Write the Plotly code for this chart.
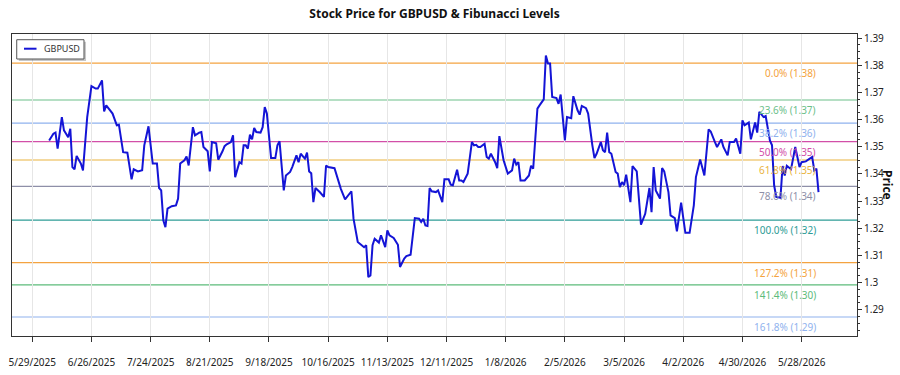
import pandas as pd
import plotly.graph_objects as go

# ---------------- data ----------------
start_date = "2025-05-29"
day_offsets = [8, 10, 11, 12, 14, 15, 16, 17, 18, 19, 20, 21, 23, 24, 26, 28, 30, 31, 33, 34,
               35, 37, 38, 40, 41, 43, 45, 47, 48, 50, 52, 53, 55, 57, 59, 60, 61, 62, 63, 64,
               66, 68, 69, 70, 72, 73, 74, 76, 77, 79, 80, 81, 83, 84, 85, 87, 88, 90, 91, 92,
               94, 95, 96, 98, 99, 100, 101, 102, 103, 104, 105, 106, 108, 109, 110, 111, 113, 115, 116, 117,
               119, 120, 122, 123, 125, 126, 127, 129, 130, 131, 132, 133, 134, 136, 138, 139, 140, 143, 145, 146,
               148, 149, 151, 152, 154, 155, 157, 158, 159, 160, 161, 162, 164, 165, 167, 168, 169, 171, 173, 174,
               176, 177, 179, 181, 183, 184, 185, 186, 187, 188, 189, 191, 192, 194, 195, 197, 198, 199, 201, 202,
               203, 204, 206, 208, 209, 210, 211, 212, 214, 215, 216, 217, 219, 220, 221, 223, 225, 227, 228, 229,
               230, 231, 233, 235, 236, 237, 239, 240, 242, 243, 244, 245, 246, 248, 249, 250, 252, 253, 255, 256,
               258, 259, 260, 262, 263, 265, 266, 267, 269, 270, 271, 272, 273, 274, 276, 277, 278, 279, 280, 281,
               283, 284, 286, 288, 290, 292, 293, 294, 295, 297, 298, 299, 301, 302, 304, 305, 307, 309, 311, 313,
               314, 316, 318, 320, 321, 323, 324, 326, 327, 329, 330, 332, 333, 335, 336, 337, 339, 340, 342, 343,
               344, 346, 347, 349, 350, 351, 352, 354, 355, 356, 357, 359, 360, 361, 363, 364, 366, 368, 369, 370,
               371, 372]
gbpusd = [1.3523, 1.3548, 1.3552, 1.3493, 1.3609, 1.3560, 1.3548, 1.3535, 1.3566, 1.3425, 1.3417, 1.3466, 1.3438, 1.3413, 1.3609, 1.3723, 1.3714, 1.3714, 1.3744, 1.3630,
          1.3652, 1.3634, 1.3622, 1.3579, 1.3581, 1.3480, 1.3478, 1.3380, 1.3417, 1.3409, 1.3413, 1.3505, 1.3575, 1.3438, 1.3438, 1.3348, 1.3339, 1.3229, 1.3204, 1.3272,
          1.3281, 1.3284, 1.3309, 1.3438, 1.3450, 1.3464, 1.3431, 1.3572, 1.3542, 1.3552, 1.3554, 1.3499, 1.3483, 1.3409, 1.3517, 1.3513, 1.3452, 1.3483, 1.3502, 1.3509,
          1.3517, 1.3542, 1.3388, 1.3443, 1.3438, 1.3505, 1.3505, 1.3493, 1.3544, 1.3527, 1.3569, 1.3554, 1.3552, 1.3572, 1.3646, 1.3622, 1.3458, 1.3458, 1.3505, 1.3520,
          1.3339, 1.3394, 1.3407, 1.3425, 1.3468, 1.3443, 1.3474, 1.3456, 1.3478, 1.3409, 1.3402, 1.3296, 1.3348, 1.3333, 1.3315, 1.3431, 1.3425, 1.3421, 1.3370, 1.3345,
          1.3306, 1.3315, 1.3336, 1.3235, 1.3149, 1.3143, 1.3130, 1.3137, 1.3020, 1.3026, 1.3137, 1.3161, 1.3147, 1.3174, 1.3130, 1.3192, 1.3174, 1.3164, 1.3139, 1.3057,
          1.3088, 1.3097, 1.3102, 1.3237, 1.3235, 1.3223, 1.3235, 1.3210, 1.3208, 1.3348, 1.3336, 1.3333, 1.3339, 1.3296, 1.3380, 1.3380, 1.3360, 1.3358, 1.3415, 1.3376,
          1.3376, 1.3370, 1.3401, 1.3517, 1.3505, 1.3507, 1.3499, 1.3499, 1.3511, 1.3462, 1.3456, 1.3474, 1.3443, 1.3421, 1.3539, 1.3450, 1.3401, 1.3413, 1.3456, 1.3434,
          1.3443, 1.3376, 1.3376, 1.3394, 1.3430, 1.3419, 1.3640, 1.3652, 1.3674, 1.3836, 1.3806, 1.3806, 1.3683, 1.3679, 1.3658, 1.3692, 1.3523, 1.3609, 1.3605, 1.3686,
          1.3634, 1.3618, 1.3650, 1.3642, 1.3622, 1.3505, 1.3458, 1.3474, 1.3517, 1.3487, 1.3480, 1.3552, 1.3480, 1.3474, 1.3407, 1.3401, 1.3351, 1.3370, 1.3358, 1.3397,
          1.3296, 1.3429, 1.3409, 1.3213, 1.3253, 1.3348, 1.3259, 1.3425, 1.3339, 1.3309, 1.3421, 1.3409, 1.3333, 1.3247, 1.3237, 1.3188, 1.3294, 1.3183, 1.3183, 1.3284,
          1.3388, 1.3453, 1.3394, 1.3564, 1.3556, 1.3517, 1.3499, 1.3527, 1.3499, 1.3468, 1.3517, 1.3517, 1.3530, 1.3474, 1.3597, 1.3579, 1.3589, 1.3527, 1.3589, 1.3552,
          1.3628, 1.3609, 1.3613, 1.3523, 1.3505, 1.3358, 1.3315, 1.3312, 1.3429, 1.3394, 1.3430, 1.3417, 1.3462, 1.3499, 1.3425, 1.3443, 1.3446, 1.3456, 1.3462, 1.3413,
          1.3419, 1.3333]

fib_labels = ["0.0%", "23.6%", "38.2%", "50.0%", "61.8%", "78.6%", "100.0%", "127.2%", "141.4%", "161.8%"]
fib_values = [1.3808, 1.3672, 1.3587, 1.3519, 1.3451, 1.3354, 1.3230, 1.3073, 1.2991, 1.2873]
fib_colors = ["#F4A340", "#6CC08A", "#8FB2EE", "#D24FA8", "#E9B440", "#8E8FA8",
              "#2E9C96", "#F4A340", "#5DBB7A", "#8FB2EE"]

x_tick_labels = ["5/29/2025", "6/26/2025", "7/24/2025", "8/21/2025", "9/18/2025", "10/16/2025",
                 "11/13/2025", "12/11/2025", "1/8/2026", "2/5/2026", "3/5/2026", "4/2/2026",
                 "4/30/2026", "5/28/2026"]

series_name = "GBPUSD"

# ---------------- figure ----------------
dates = pd.Timestamp(start_date) + pd.to_timedelta(day_offsets, unit="D")
tick_vals = [pd.to_datetime(t, format="%m/%d/%Y") for t in x_tick_labels]

FONT = "Noto Sans"
LINE_COLOR = "#1414D6"
fig = go.Figure()

for lab, val, col in zip(fib_labels, fib_values, fib_colors):
    fig.add_hline(y=val, line=dict(color=col, width=1.2), layer="below")
    fig.add_annotation(x=0.954, xref="paper", y=val, yref="y", xanchor="right", yanchor="top",
                       yshift=-1, text=f"{lab} ({val:.2f})", showarrow=False,
                       font=dict(family=FONT, size=10, color=col))

fig.add_trace(go.Scatter(x=dates, y=gbpusd, mode="lines", name=series_name,
                         line=dict(color=LINE_COLOR, width=2)))

# custom legend box (shadow, frame, line sample, label)
fig.add_shape(type="rect", xref="paper", yref="paper", x0=0.0080, x1=0.0876, y0=0.9106, y1=0.9745,
              line=dict(width=0), fillcolor="rgba(0,0,0,0.22)", layer="above")
fig.add_shape(type="rect", xref="paper", yref="paper", x0=0.0056, x1=0.0852, y0=0.9172, y1=0.9811,
              line=dict(width=1, color="#555555"), fillcolor="white", layer="above")
fig.add_shape(type="line", xref="paper", yref="paper", x0=0.0142, x1=0.0290, y0=0.9513, y1=0.9513,
              line=dict(width=2, color=LINE_COLOR), layer="above")
fig.add_annotation(x=0.0360, xref="paper", y=0.9513, yref="paper", xanchor="left", yanchor="middle",
                   text=series_name, showarrow=False, font=dict(family=FONT, size=9, color="#333333"))

fig.update_layout(
    width=900, height=375,
    margin=dict(l=12, r=43, t=34, b=39, autoexpand=False),
    paper_bgcolor="white", plot_bgcolor="white",
    font=dict(family=FONT, size=10, color="#222222"),
    title=dict(text="<b>Stock Price for GBPUSD & Fibunacci Levels</b>", x=0.4828, xanchor="center",
               y=0.962, yanchor="middle", font=dict(family=FONT, size=12, color="#111111")),
    showlegend=False,
)
fig.update_xaxes(
    type="date", range=["2025-05-19 10:00", "2026-06-23 05:00"], automargin=False,
    tickvals=tick_vals, ticktext=x_tick_labels,
    showgrid=True, gridcolor="#E6E6E6", gridwidth=1,
    showline=True, linecolor="#333333", linewidth=1, mirror=True,
    ticks="outside", ticklen=5, tickcolor="#333333", ticklabelstandoff=12,
    tickfont=dict(family=FONT, size=10, color="#222222"), zeroline=False,
)
fig.update_yaxes(
    side="right", range=[1.2803, 1.3915], dtick=0.01, tick0=1.28, automargin=False,
    showgrid=False, zeroline=False,
    showline=True, linecolor="#333333", linewidth=1, mirror=True,
    ticks="outside", ticklen=4, tickcolor="#333333",
    minor=dict(dtick=0.0025, ticks="outside", ticklen=2, tickcolor="#333333", showgrid=False),
    tickfont=dict(family=FONT, size=10, color="#222222"),
)
fig.add_annotation(x=1.0367, xref="paper", y=0.5, yref="paper", text="<b>Price</b>", showarrow=False,
                   textangle=90, xanchor="center", yanchor="middle",
                   font=dict(family=FONT, size=12, color="#111111"))

fig.write_html("out.html")
